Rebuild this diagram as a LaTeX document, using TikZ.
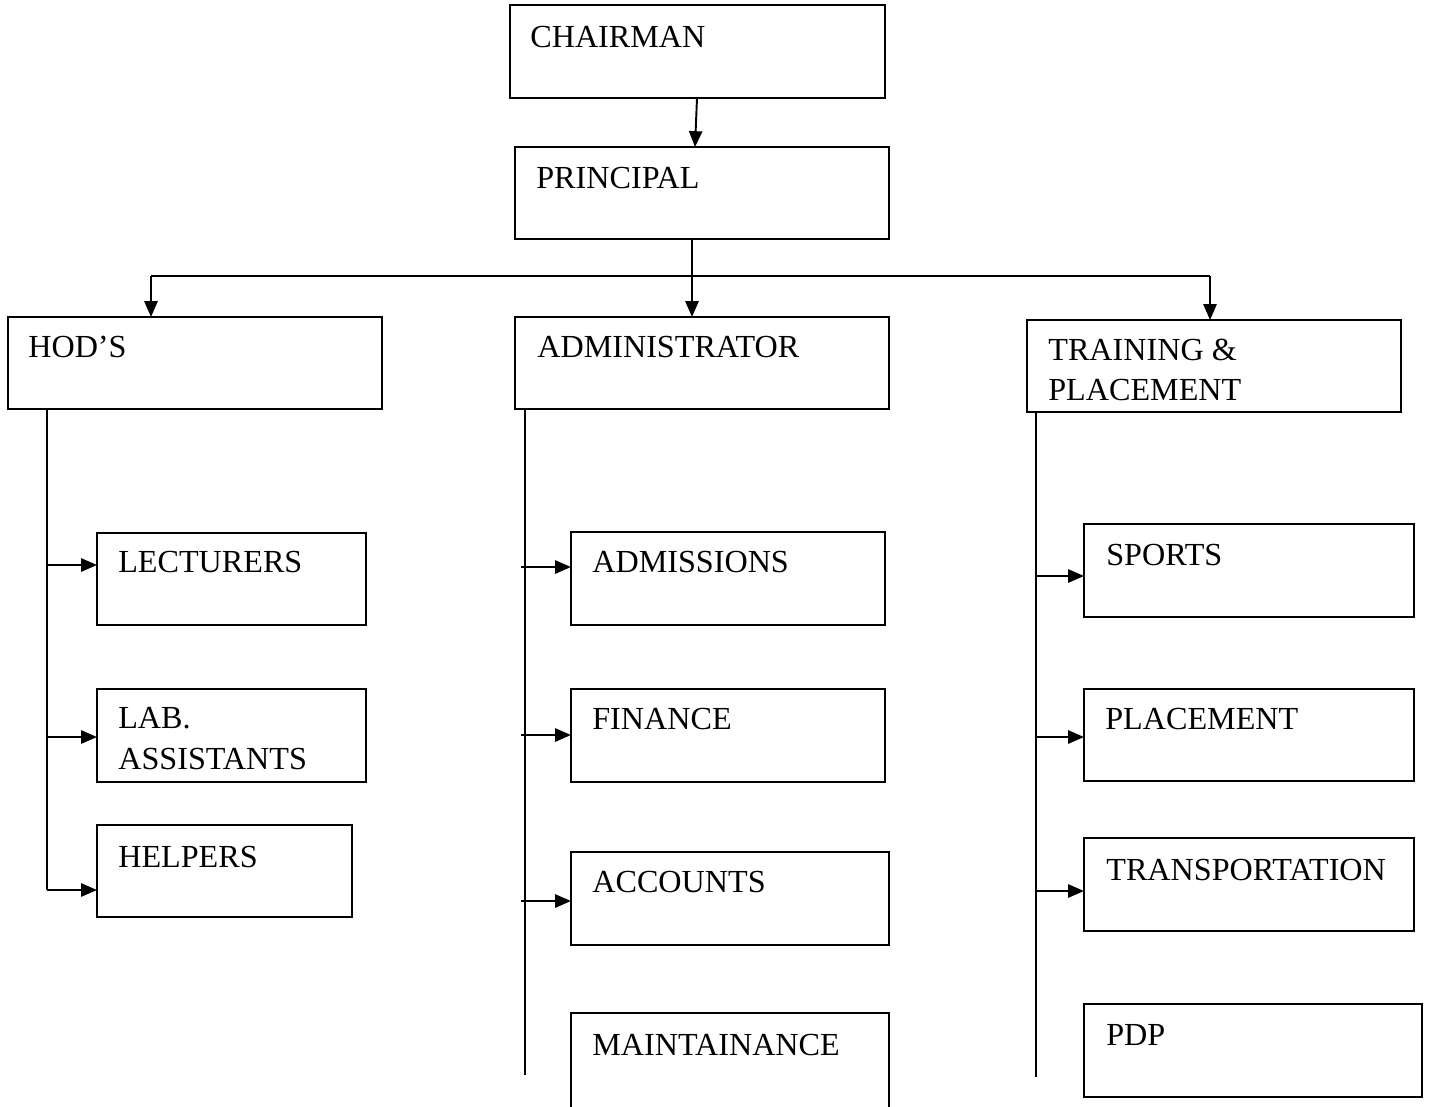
\documentclass[tikz,border=0pt]{standalone}
\usepackage{fontspec}
\setmainfont{Liberation Serif}
\usetikzlibrary{arrows.meta}

\tikzset{
  box/.style={draw, line width=1.1pt, rectangle, anchor=north west, inner sep=0pt, outer sep=0pt},
  lbl/.style={anchor=base west, inner sep=0pt, font=\fontsize{18.3}{22.7}\selectfont},
  arr/.style={line width=1.1pt, -{Triangle[length=9pt,width=7.5pt]}},
  ln/.style={line width=1.1pt}
}

\begin{document}
\begin{tikzpicture}[x=0.02cm, y=-0.02cm]
	\useasboundingbox (0,0) rectangle (1429,1106);
	\clip (0,0) rectangle (1429,1106);
	% top of the chart
	\node[box, minimum width=7.5cm, minimum height=1.86cm] (chair) at (510,5) {};
	\node[box, minimum width=7.48cm, minimum height=1.84cm] (pri) at (515,147) {};
	\node[lbl] (chairT) at ([shift={(20,42)}]chair.north west) {CHAIRMAN};
	\node[lbl] (priT) at ([shift={(21,41)}]pri.north west) {PRINCIPAL};
	
	% second row
	\node[box, minimum width=7.48cm, minimum height=1.84cm] (hod) at (8,317) {};
	\node[box, minimum width=7.48cm, minimum height=1.84cm] (adm) at (515,317) {};
	\node[box, minimum width=7.48cm, minimum height=1.84cm] (tnp) at (1027,320) {};
	\node[lbl] (hodT) at ([shift={(20,40)}]hod.north west) {HOD’S};
	\node[lbl] (admT) at ([shift={(22,40)}]adm.north west) {ADMINISTRATOR};
	\node[lbl] (tnpT) at ([shift={(21,40)}]tnp.north west) {TRAINING \&};
	\node[lbl] (tnpT2) at ([shift={(21,80)}]tnp.north west) {PLACEMENT};
	
	% under HOD'S
	\node[box, minimum width=5.38cm, minimum height=1.84cm] (lec) at (97,533) {};
	\node[box, minimum width=5.38cm, minimum height=1.86cm] (lab) at (97,689) {};
	\node[box, minimum width=5.1cm, minimum height=1.84cm] (hlp) at (97,825) {};
	\node[lbl] (lecT) at ([shift={(21,39)}]lec.north west) {LECTURERS};
	\node[lbl] (labT) at ([shift={(21,39)}]lab.north west) {LAB.};
	\node[lbl] (labT2) at ([shift={(21,80)}]lab.north west) {ASSISTANTS};
	\node[lbl] (hlpT) at ([shift={(21,42)}]hlp.north west) {HELPERS};
	
	% under ADMINISTRATOR
	\node[box, minimum width=6.28cm, minimum height=1.86cm] (ads) at (571,532) {};
	\node[box, minimum width=6.28cm, minimum height=1.86cm] (fin) at (571,689) {};
	\node[box, minimum width=6.36cm, minimum height=1.86cm] (acc) at (571,852) {};
	\node[box, minimum width=6.36cm, minimum height=2.4cm] (mnt) at (571,1013) {};
	\node[lbl] (adsT) at ([shift={(21,40)}]ads.north west) {ADMISSIONS};
	\node[lbl] (finT) at ([shift={(21,40)}]fin.north west) {FINANCE};
	\node[lbl] (accT) at ([shift={(21,40)}]acc.north west) {ACCOUNTS};
	\node[lbl] (mntT) at ([shift={(21,42)}]mnt.north west) {MAINTAINANCE};
	
	% under TRAINING & PLACEMENT
	\node[box, minimum width=6.6cm, minimum height=1.86cm] (spo) at (1084,524) {};
	\node[box, minimum width=6.6cm, minimum height=1.84cm] (plc) at (1084,689) {};
	\node[box, minimum width=6.6cm, minimum height=1.86cm] (trn) at (1084,838) {};
	\node[box, minimum width=6.76cm, minimum height=1.86cm] (pdp) at (1084,1004) {};
	\node[lbl] (spoT) at ([shift={(22,41)}]spo.north west) {SPORTS};
	\node[lbl] (plcT) at ([shift={(21,40)}]plc.north west) {PLACEMENT};
	\node[lbl] (trnT) at ([shift={(22,42)}]trn.north west) {TRANSPORTATION};
	\node[lbl] (pdpT) at ([shift={(22,41)}]pdp.north west) {PDP};
	
	% connectors
	\draw[arr] (chair.south -| 697,0) -- (pri.north -| 695,0);
	\coordinate (busL) at (151,276);
	\coordinate (busM) at (692,276);
	\coordinate (busR) at (1210,276);
	\draw[ln] (pri.south -| busM) -- (busM);
	\draw[ln] (busL) -- (busR);
	\draw[arr] (busL) -- (busL |- hod.north);
	\draw[arr] (busM) -- (busM |- adm.north);
	\draw[arr] (busR) -- (busR |- tnp.north);
	
	\coordinate (hodEnd) at (47,890);
	\coordinate (admEnd) at (525,1075);
	\coordinate (tnpEnd) at (1036,1077);
	\draw[ln] (hod.south -| hodEnd) -- (hodEnd);
	\draw[ln] (adm.south -| admEnd) -- (admEnd);
	\draw[ln] (tnp.south -| tnpEnd) -- (tnpEnd);
	
	\foreach \n/\y in {lec/565, lab/737, hlp/890}
		\draw[arr] (47,\y) -- (\n.west |- 0,\y);
	\foreach \n/\y in {ads/567, fin/735, acc/901}
		\draw[arr] (521,\y) -- (\n.west |- 0,\y);
	\foreach \n/\y in {spo/576, plc/737, trn/891}
		\draw[arr] (1036,\y) -- (\n.west |- 0,\y);
\end{tikzpicture}
\end{document}
